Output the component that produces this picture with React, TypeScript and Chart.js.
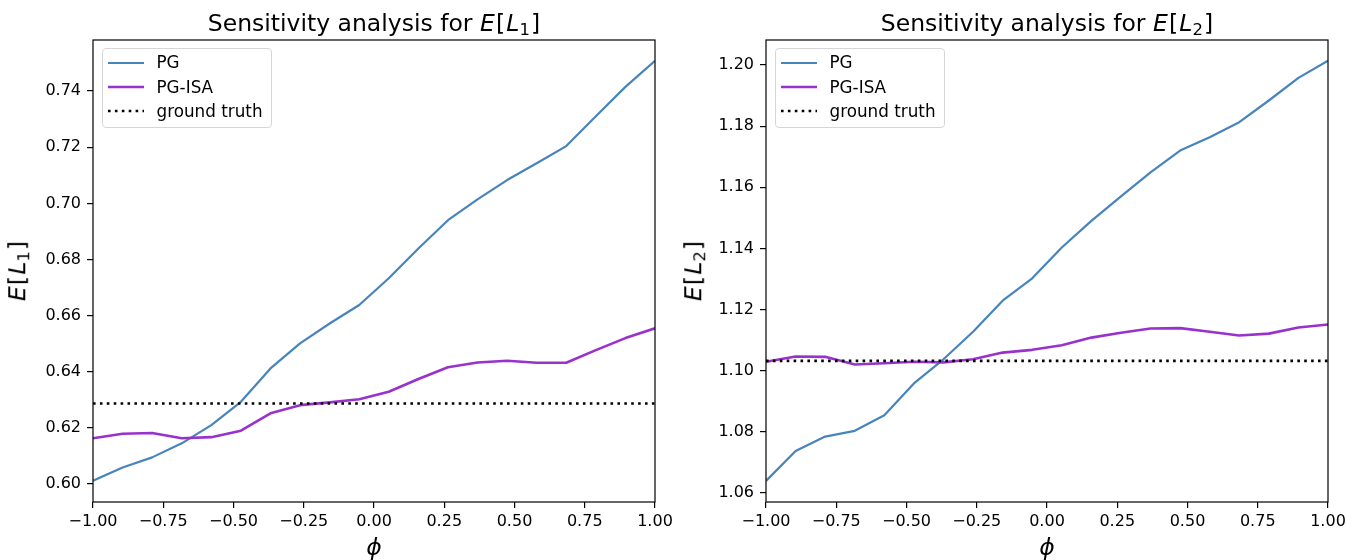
import React, { useEffect, useRef } from 'react';
import { Chart, registerables } from 'chart.js';

Chart.register(...registerables);

// phi grid (20 evaluation points between -1 and 1)
const PHI = [-1.0, -0.8947, -0.7895, -0.6842, -0.5789, -0.4737, -0.3684, -0.2632, -0.1579, -0.0526,
  0.0526, 0.1579, 0.2632, 0.3684, 0.4737, 0.5789, 0.6842, 0.7895, 0.8947, 1.0];

// E[L1]
const PG_L1 = [0.6012, 0.6059, 0.6095, 0.6145, 0.6210, 0.6293, 0.6412, 0.6501, 0.6572, 0.6638,
  0.6733, 0.6839, 0.6940, 0.7014, 0.7083, 0.7143, 0.7204, 0.7310, 0.7415, 0.7508];
const ISA_L1 = [0.6163, 0.6179, 0.6182, 0.6163, 0.6167, 0.6190, 0.6252, 0.6281, 0.6291, 0.6302,
  0.6329, 0.6374, 0.6416, 0.6433, 0.6439, 0.6432, 0.6432, 0.6477, 0.6520, 0.6555];
const TRUTH_L1 = 0.6287;

// E[L2]
const PG_L2 = [1.0639, 1.0737, 1.0784, 1.0803, 1.0854, 1.0958, 1.1037, 1.1127, 1.1229, 1.1302,
  1.1403, 1.1490, 1.1570, 1.1649, 1.1720, 1.1764, 1.1813, 1.1884, 1.1958, 1.2014];
const ISA_L2 = [1.1029, 1.1046, 1.1045, 1.1020, 1.1024, 1.1029, 1.1027, 1.1037, 1.1059, 1.1068,
  1.1083, 1.1108, 1.1124, 1.1138, 1.1139, 1.1127, 1.1115, 1.1121, 1.1141, 1.1151];
const TRUTH_L2 = 1.1032;

const SERIES_NAMES = ['PG', 'PG-ISA', 'ground truth'];
const X_TICK_STEP = 0.25;
const Y_TICK_STEP = 0.02;

const C_PG = '#4884BC';
const C_ISA = '#9932CC';
const C_TRUTH = '#000000';
const FONT = '"DejaVu Sans", "Liberation Sans", sans-serif';

const fmt = (v: number) => {
  const n = Math.abs(v) < 1e-9 ? 0 : v;
  return n.toFixed(2).replace('-', '\u2212');
};

const framePlugin = {
  id: 'frame',
  afterDraw(chart: any) {
    const { ctx, chartArea: a } = chart;
    ctx.save();
    ctx.strokeStyle = '#000';
    ctx.lineWidth = 1.2;
    ctx.strokeRect(a.left, a.top, a.right - a.left, a.bottom - a.top);
    ctx.restore();
  },
};

function makeConfig(pg: number[], isa: number[], truth: number, ymin: number, ymax: number): any {
  return {
    type: 'line',
    data: {
      datasets: [
        {
          label: SERIES_NAMES[0],
          data: PHI.map((x, i) => ({ x, y: pg[i] })),
          borderColor: C_PG,
          borderWidth: 2.2,
          pointRadius: 0,
          order: 3,
        },
        {
          label: SERIES_NAMES[1],
          data: PHI.map((x, i) => ({ x, y: isa[i] })),
          borderColor: C_ISA,
          borderWidth: 2.6,
          pointRadius: 0,
          order: 2,
        },
        {
          label: SERIES_NAMES[2],
          data: [{ x: PHI[0], y: truth }, { x: PHI[PHI.length - 1], y: truth }],
          borderColor: C_TRUTH,
          borderWidth: 2.6,
          borderDash: [2.6, 4.3],
          pointRadius: 0,
          order: 1,
        },
      ],
    },
    options: {
      responsive: false,
      animation: false,
      events: [],
      layout: { padding: { left: 0, right: 18, top: 40, bottom: 0 } },
      plugins: { legend: { display: false }, title: { display: false }, tooltip: { enabled: false } },
      elements: { line: { tension: 0, borderCapStyle: 'butt', borderJoinStyle: 'round' } },
      scales: {
        x: {
          type: 'linear',
          min: -1,
          max: 1,
          afterFit: (s: any) => { s.height = 58; s.paddingLeft = 0; s.paddingRight = 0; },
          ticks: {
            stepSize: X_TICK_STEP,
            autoSkip: false,
            maxRotation: 0,
            includeBounds: false,
            padding: 4,
            color: '#000',
            font: { family: FONT, size: 16 },
            callback: (v: any) => fmt(Number(v)),
          },
          grid: { drawOnChartArea: false, drawTicks: true, tickLength: 6, color: '#000', lineWidth: 1.2 },
          border: { display: false },
        },
        y: {
          type: 'linear',
          min: ymin,
          max: ymax,
          afterFit: (s: any) => { s.width = 93; s.paddingTop = 0; s.paddingBottom = 0; },
          ticks: {
            stepSize: Y_TICK_STEP,
            includeBounds: false,
            padding: 6,
            color: '#000',
            font: { family: FONT, size: 16 },
            callback: (v: any) => fmt(Number(v)),
          },
          grid: { drawOnChartArea: false, drawTicks: true, tickLength: 6, color: '#000', lineWidth: 1.2 },
          border: { display: false },
        },
      },
    },
    plugins: [framePlugin],
  };
}

const PANEL_W = 673;
const PLOT_LEFT = 93;
const PLOT_RIGHT = 655;
const PLOT_TOP = 40;
const PLOT_BOTTOM = 502;
const BIG = 23.5;
const LEG = 16.8;

function MathE({ sub }: { sub: string }) {
  return (
    <span>
      <span style={{ fontStyle: 'italic' }}>E</span>
      <span style={{ margin: '0 0.05em' }}>[</span>
      <span style={{ fontStyle: 'italic' }}>L</span>
      <span style={{ fontSize: '0.7em', position: 'relative', top: '0.22em' }}>{sub}</span>
      <span style={{ marginLeft: '0.05em' }}>]</span>
    </span>
  );
}

function LegendBox() {
  const rows = [
    { name: SERIES_NAMES[0], color: C_PG, w: 2.2, dash: undefined as string | undefined },
    { name: SERIES_NAMES[1], color: C_ISA, w: 2.6, dash: undefined as string | undefined },
    { name: SERIES_NAMES[2], color: C_TRUTH, w: 2.6, dash: '2.6 4.3' },
  ];
  const centers = [14.7, 39.2, 63];
  return (
    <div
      style={{
        position: 'absolute',
        left: PLOT_LEFT + 8.5,
        top: PLOT_TOP + 8,
        width: 170,
        height: 80,
        boxSizing: 'border-box',
        border: '1px solid #d6d6d6',
        borderRadius: 4,
        background: 'rgba(255,255,255,0.8)',
      }}
    >
      {rows.map((r, i) => (
        <React.Fragment key={r.name}>
          <svg
            width={36}
            height={6}
            style={{ position: 'absolute', left: 5, top: centers[i] - 3 - 1 }}
          >
            <line x1={0} y1={3} x2={36} y2={3} stroke={r.color} strokeWidth={r.w} strokeDasharray={r.dash} />
          </svg>
          <span
            style={{
              position: 'absolute',
              left: 54,
              top: centers[i] - LEG / 2 - 1,
              font: `${LEG}px ${FONT}`,
              lineHeight: `${LEG}px`,
              whiteSpace: 'nowrap',
              color: '#000',
            }}
          >
            {r.name}
          </span>
        </React.Fragment>
      ))}
    </div>
  );
}

function Panel({ left, pg, isa, truth, ymin, ymax, sub, labelX }: any) {
  const ref = useRef<HTMLCanvasElement | null>(null);
  useEffect(() => {
    if (!ref.current) return;
    const chart = new Chart(ref.current, makeConfig(pg, isa, truth, ymin, ymax));
    return () => chart.destroy();
  }, []);
  const plotW = PLOT_RIGHT - PLOT_LEFT;
  const cx = PLOT_LEFT + plotW / 2;
  const cy = (PLOT_TOP + PLOT_BOTTOM) / 2;
  const big = `${BIG}px ${FONT}`;
  return (
    <div style={{ position: 'absolute', left, top: 0, width: PANEL_W, height: 560 }}>
      <canvas ref={ref} width={PANEL_W} height={560} style={{ position: 'absolute', left: 0, top: 0, display: 'block' }} />
      <div
        style={{
          position: 'absolute',
          left: PLOT_LEFT - 100,
          width: plotW + 200,
          top: 12,
          textAlign: 'center',
          font: big,
          lineHeight: `${BIG}px`,
          whiteSpace: 'nowrap',
          color: '#000',
        }}
      >
        Sensitivity analysis for <MathE sub={sub} />
      </div>
      <div
        style={{
          position: 'absolute',
          left: labelX,
          top: cy,
          transform: 'translate(-50%, -50%) rotate(-90deg)',
          font: big,
          lineHeight: `${BIG}px`,
          whiteSpace: 'nowrap',
          color: '#000',
        }}
      >
        <MathE sub={sub} />
      </div>
      <div
        style={{
          position: 'absolute',
          left: cx,
          top: 536,
          transform: 'translateX(-50%)',
          font: big,
          fontStyle: 'italic',
          lineHeight: `${BIG}px`,
          color: '#000',
        }}
      >
        ϕ
      </div>
      <LegendBox />
    </div>
  );
}

export default function App() {
  return (
    <div style={{ position: 'absolute', left: 0, top: 0, width: 1346, height: 560, background: '#fff', overflow: 'hidden' }}>
      <Panel left={0} pg={PG_L1} isa={ISA_L1} truth={TRUTH_L1} ymin={0.5936} ymax={0.7582} sub="1" labelX={19} />
      <Panel left={673} pg={PG_L2} isa={ISA_L2} truth={TRUTH_L2} ymin={1.057} ymax={1.2082} sub="2" labelX={22} />
    </div>
  );
}
